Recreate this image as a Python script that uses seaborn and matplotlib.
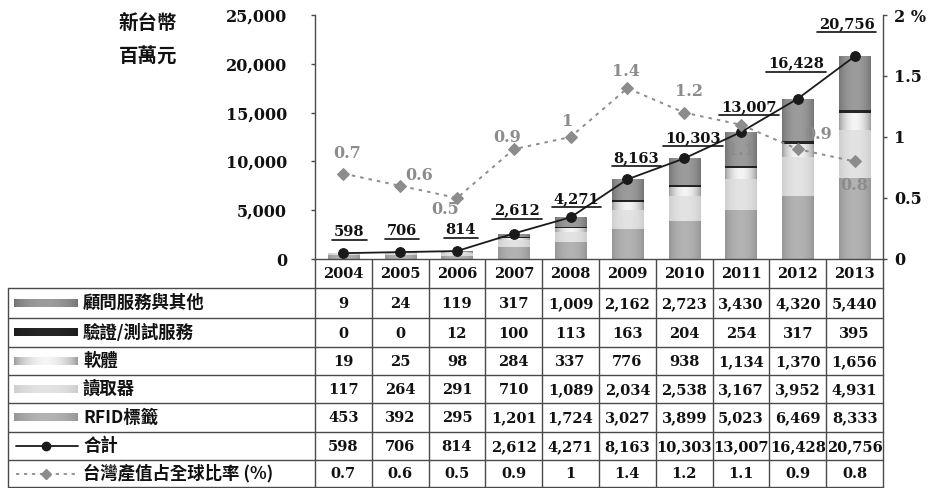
import numpy as np
import pandas as pd
import matplotlib
matplotlib.use("Agg")
import matplotlib.pyplot as plt
import matplotlib.transforms as mtransforms
from matplotlib.colors import LinearSegmentedColormap
from matplotlib.lines import Line2D
from matplotlib.patches import Rectangle
import seaborn as sns

# ---- data (NT$ million) ----
years = ["2004", "2005", "2006", "2007", "2008", "2009", "2010", "2011", "2012", "2013"]
consulting = [9, 24, 119, 317, 1009, 2162, 2723, 3430, 4320, 5440]
testing = [0, 0, 12, 100, 113, 163, 204, 254, 317, 395]
software = [19, 25, 98, 284, 337, 776, 938, 1134, 1370, 1656]
readers = [117, 264, 291, 710, 1089, 2034, 2538, 3167, 3952, 4931]
tags = [453, 392, 295, 1201, 1724, 3027, 3899, 5023, 6469, 8333]
totals = [598, 706, 814, 2612, 4271, 8163, 10303, 13007, 16428, 20756]
share = [0.7, 0.6, 0.5, 0.9, 1, 1.4, 1.2, 1.1, 0.9, 0.8]
share_labels = ["0.7", "0.6", "0.5", "0.9", "1", "1.4", "1.2", "1.1", "0.9", "0.8"]

series_names = ["顧問服務與其他", "驗證/測試服務", "軟體", "讀取器", "RFID標籤"]
total_name = "合計"
share_name = "台灣產值占全球比率 (%)"
unit_lines = ["新台幣", "百萬元"]

# ---- styling ----
W, H = 941, 488
DPI = 100
CJK = ["Noto Sans CJK TC", "DejaVu Sans"]
NUM = ["DejaVu Serif"]
# (edge shade, centre shade) for each stacked series
shades = {
    "RFID標籤": ("#959595", "#b3b3b3"),
    "讀取器": ("#cdcdcd", "#e3e3e3"),
    "軟體": ("#9a9a9a", "#f4f4f4"),
    "驗證/測試服務": ("#1c1c1c", "#262626"),
    "顧問服務與其他": ("#737373", "#9c9c9c"),
}
line_dark = "#1a1a1a"
share_gray = "#8c8c8c"
grid_col = "#4a4a4a"

sns.set_theme(style="white")
plt.rcParams["font.family"] = CJK

fig = plt.figure(figsize=(W / DPI, H / DPI), dpi=DPI)
fig.patch.set_facecolor("white")


def px_box(l, t, r, b):
    return [l / W, 1 - b / H, (r - l) / W, (b - t) / H]


def shade_cmap(name):
    edge, centre = shades[name]
    return LinearSegmentedColormap.from_list(name, [edge, centre])


GRAD = np.sin(np.linspace(0, np.pi, 64)) ** 0.7
GRAD = GRAD[np.newaxis, :]

PLOT_L, PLOT_T, PLOT_R, PLOT_B = 315, 15, 883, 259
ax = fig.add_axes(px_box(PLOT_L, PLOT_T, PLOT_R, PLOT_B))

df = pd.DataFrame({
    "year": years,
    "RFID標籤": tags,
    "讀取器": readers,
    "軟體": software,
    "驗證/測試服務": testing,
    "顧問服務與其他": consulting,
})
stack_order = ["RFID標籤", "讀取器", "軟體", "驗證/測試服務", "顧問服務與其他"]
cum = df[stack_order].cumsum(axis=1)

# draw the tallest cumulative layer first so lower layers sit on top
layer_patches = {}
for name in reversed(stack_order):
    n0 = len(ax.patches)
    sns.barplot(x=df["year"], y=cum[name], color=shades[name][0], width=0.55,
                saturation=1, edgecolor="none", linewidth=0, ax=ax)
    layer_patches[name] = list(ax.patches[n0:])

ax.set_xlim(-0.5, len(years) - 0.5)
ax.set_ylim(0, 25000)

# horizontal shading across every bar segment
for name, patches in layer_patches.items():
    cmap = shade_cmap(name)
    for p in patches:
        x0, y0 = p.get_x(), p.get_y()
        w, h = p.get_width(), p.get_height()
        if h <= 0:
            continue
        im = ax.imshow(GRAD, cmap=cmap, vmin=0, vmax=1, aspect="auto",
                       extent=(x0, x0 + w, y0, y0 + h), interpolation="bilinear",
                       zorder=p.get_zorder())
        im.set_clip_path(p)

ax.set_xlim(-0.5, len(years) - 0.5)
ax.set_ylim(0, 25000)

pos = np.arange(len(years))
sns.lineplot(x=pos, y=totals, ax=ax, color=line_dark, marker="o", markersize=7,
             markeredgecolor=line_dark, linewidth=1.3, zorder=5)

ax.set_xlim(-0.5, len(years) - 0.5)
ax.set_ylim(0, 25000)
ax.set_xlabel("")
ax.set_ylabel("")
ax.set_xticks([])
ax.set_yticks(np.arange(0, 25001, 5000))
ax.yaxis.set_major_formatter(matplotlib.ticker.StrMethodFormatter("{x:,.0f}"))
ax.tick_params(axis="y", direction="out", length=3, width=1, color=grid_col,
               pad=17, left=True)
for lab in ax.get_yticklabels():
    lab.set_fontfamily(NUM)
    lab.set_fontweight("bold")
    lab.set_fontsize(11.5)
    lab.set_color("#111111")
for side in ["top", "right"]:
    ax.spines[side].set_visible(False)
for side in ["left", "bottom"]:
    ax.spines[side].set_color(grid_col)
    ax.spines[side].set_linewidth(1)

# share of global output on the right axis
ax2 = ax.twinx()
sns.lineplot(x=pos, y=share, ax=ax2, color=share_gray, marker="D", markersize=6,
             markeredgecolor=share_gray, linewidth=1.4, linestyle=(0, (1.8, 2.6)))
ax2.set_xlim(-0.5, len(years) - 0.5)
ax2.set_ylim(0, 2)
ax2.set_ylabel("")
ax2.set_yticks([0, 0.5, 1, 1.5, 2])
ax2.set_yticklabels(["0", "0.5", "1", "1.5", "2 %"])
ax2.tick_params(axis="y", direction="out", length=3, width=1, color=grid_col,
                pad=5, right=True)
for lab in ax2.get_yticklabels():
    lab.set_fontfamily(NUM)
    lab.set_fontweight("bold")
    lab.set_fontsize(11.5)
    lab.set_color("#111111")
for side in ["top", "left", "bottom"]:
    ax2.spines[side].set_visible(False)
ax2.spines["right"].set_color(grid_col)
ax2.spines["right"].set_linewidth(1)

PX2PT = 72 / DPI
total_offsets = [(6, 21), (2, 21), (4, 21), (3, 23), (6, 18), (9, 21),
                 (9, 20), (8, 25), (-2, 35), (-8, 32)]
total_texts = []
for i, v in enumerate(totals):
    dx, dy = total_offsets[i]
    t = ax2.annotate(f"{v:,}", xy=(i, v), xycoords=ax.transData,
                     xytext=(dx * PX2PT, dy * PX2PT), textcoords="offset points",
                     ha="center", va="center", fontsize=10.5, fontweight="bold",
                     family=NUM, color="#111111", zorder=6)
    total_texts.append(t)

share_offsets = [(4, 20), (19, 10), (-12, -12), (-7, 12), (-3, 15), (-1, 17),
                 (5, 21), (0, -26), (20, 15), (0, -24)]
for i, v in enumerate(share):
    dx, dy = share_offsets[i]
    ax2.annotate(share_labels[i], xy=(i, v),
                 xytext=(dx * PX2PT, dy * PX2PT), textcoords="offset points",
                 ha="center", va="center", fontsize=11.5, fontweight="bold",
                 family=NUM, color=share_gray, zorder=6)

# unit label
fig.text(148 / W, 1 - 23 / H, unit_lines[0], ha="center", va="center",
         fontsize=14, fontweight="bold", family=CJK, color="#111111")
fig.text(148 / W, 1 - 57 / H, unit_lines[1], ha="center", va="center",
         fontsize=14, fontweight="bold", family=CJK, color="#111111")

# ---- data table underneath ----
tab = fig.add_axes([0, 0, 1, 1], zorder=-1)
tab.set_xlim(0, W)
tab.set_ylim(H, 0)
tab.axis("off")
tab.patch.set_visible(False)
col_tr = mtransforms.blended_transform_factory(ax.transData, tab.transData)

TAB_L = 8
year_top, year_bot = PLOT_B, 288
row_lines = [288, 318, 347, 375, 403, 432, 460, 487]
lw_tab = 1.0

# horizontal rules
for y in row_lines:
    tab.add_line(Line2D([TAB_L, PLOT_R], [y, y], color=grid_col, lw=lw_tab))
# column rules
for k in range(len(years) + 1):
    tab.add_line(Line2D([k - 0.5, k - 0.5], [year_top, row_lines[-1]],
                        color=grid_col, lw=lw_tab, transform=col_tr))
tab.add_line(Line2D([TAB_L, TAB_L], [row_lines[0], row_lines[-1]],
                    color=grid_col, lw=lw_tab))

# year header
for i, yr in enumerate(years):
    tab.text(i, (year_top + year_bot) / 2 + 1, yr, transform=col_tr, ha="center",
             va="center", fontsize=10.5, fontweight="bold", family=NUM,
             color="#111111")

row_values = [
    [f"{v:,}" for v in consulting],
    [f"{v:,}" for v in testing],
    [f"{v:,}" for v in software],
    [f"{v:,}" for v in readers],
    [f"{v:,}" for v in tags],
    [f"{v:,}" for v in totals],
    share_labels,
]
row_names = series_names + [total_name, share_name]

for r in range(len(row_names)):
    yc = (row_lines[r] + row_lines[r + 1]) / 2
    for i, s in enumerate(row_values[r]):
        tab.text(i, yc + 1, s, transform=col_tr, ha="center", va="center",
                 fontsize=10.5, fontweight="bold", family=NUM, color="#111111")
    tab.text(83, yc, row_names[r], ha="left", va="center", fontsize=12.5,
             fontweight="bold", family=CJK, color="#111111")
    if r < len(series_names):
        tab.imshow(GRAD, cmap=shade_cmap(series_names[r]), vmin=0, vmax=1,
                   aspect="auto", extent=(14, 78, yc + 4, yc - 4),
                   interpolation="bilinear")
    elif r == len(series_names):
        tab.add_line(Line2D([16, 78], [yc, yc], color=line_dark, lw=1.3))
        tab.add_line(Line2D([46], [yc], color=line_dark, marker="o", markersize=6))
    else:
        tab.add_line(Line2D([16, 78], [yc, yc], color=share_gray, lw=1.3,
                            linestyle=(0, (1.8, 2.6))))
        tab.add_line(Line2D([46], [yc], color=share_gray, marker="D", markersize=5))
tab.set_xlim(0, W)
tab.set_ylim(H, 0)

# underline the total labels
fig.canvas.draw()
renderer = fig.canvas.get_renderer()
inv = fig.transFigure.inverted()
for t in total_texts:
    bb = t.get_window_extent(renderer)
    y = bb.y0 - 1
    (x0, y0), (x1, _) = inv.transform([(bb.x0 - 2, y), (bb.x1 + 2, y)])
    fig.add_artist(Line2D([x0, x1], [y0, y0], color="#111111", lw=1.2,
                          transform=fig.transFigure))

fig.savefig("out.png", dpi=DPI, facecolor="white")
